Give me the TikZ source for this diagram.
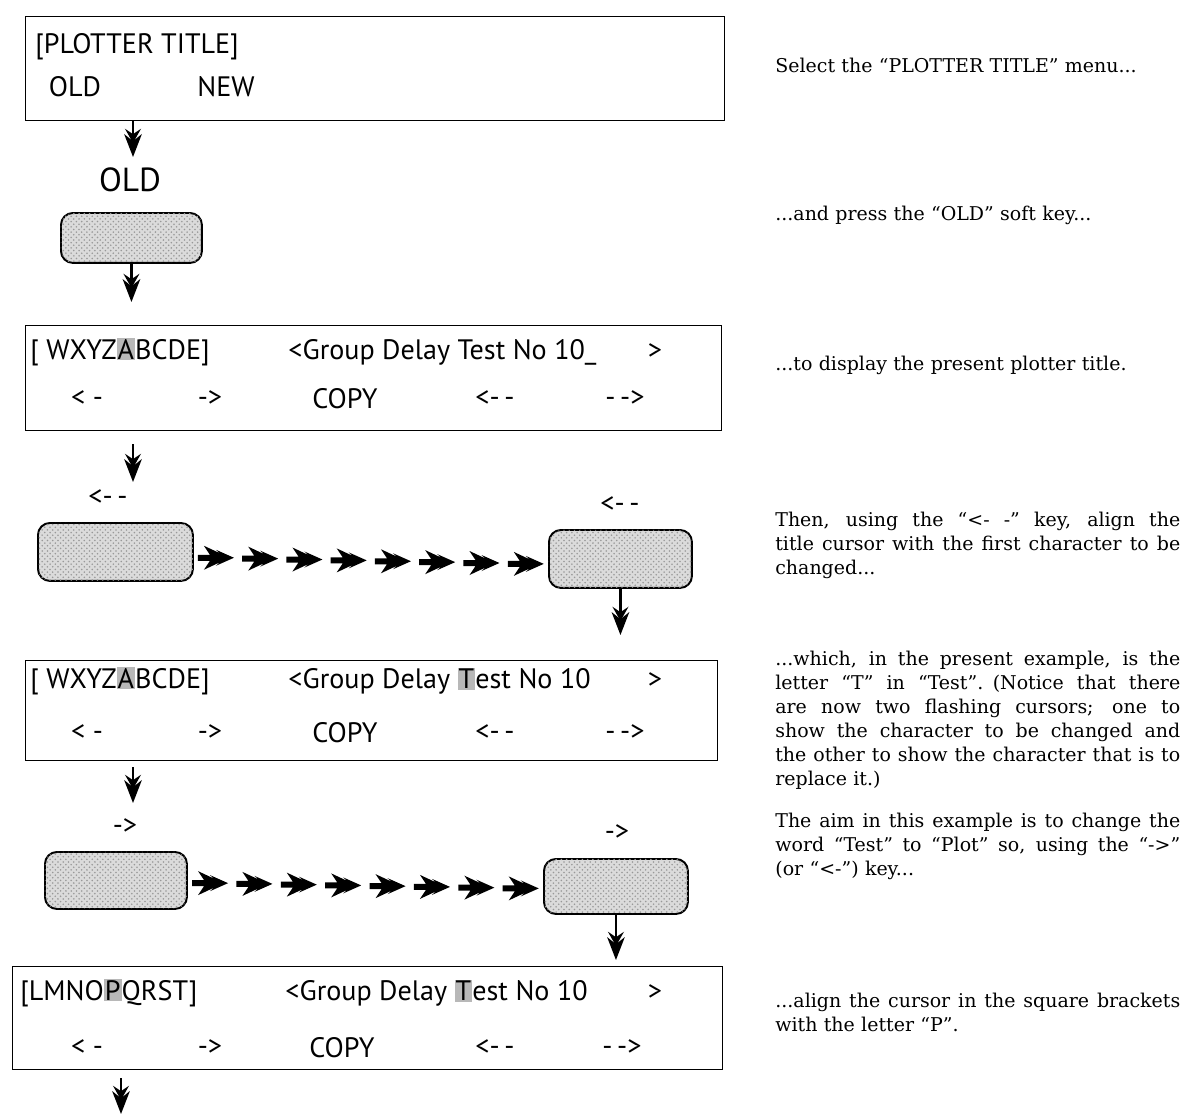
\documentclass[tikz,border=0pt]{standalone}
\usepackage{fontspec}
\setmainfont{DejaVu Serif}
\newfontfamily\scr{PT Sans}
\usetikzlibrary{arrows.meta,patterns,calc}
\newcommand\cur[1]{{\setlength\fboxsep{0.6pt}\colorbox{black!28}{#1}}}
\newcommand\jl[1]{\makebox[8.1cm][s]{\spaceskip=0.3em plus 1fil\relax #1}\\}
\newcommand\chev[1]{\fill[shift={(#1)}] (0,0) -- (-18,8) -- (-14,4.5) -- (-30,12) -- (-24,3) -- (-36,3) -- (-36,-3) -- (-24,-3) -- (-30,-12) -- (-14,-4.5) -- (-18,-8) -- cycle;}
\tikzset{
  scrbox/.style={draw, line width=0.8pt, anchor=north west, inner sep=0pt},
  keybox/.style={draw, line width=1.1pt, anchor=north west, inner sep=0pt,
     rounded corners=0.24cm, fill=black!14,
     postaction={pattern=crosshatch dots, pattern color=black!40}},
  scrt/.style={font=\scr\fontsize{16}{19}\selectfont, inner sep=0pt},
  scrl/.style={scrt, anchor=west},
  bigt/.style={font=\scr\fontsize{19}{22}\selectfont, inner sep=0pt},
  darr/.style={draw, line width=1.3pt,
     -{Stealth[length=8pt,width=9pt,inset=3pt,sep=-5pt]Stealth[length=13pt,width=10pt,inset=4pt]}},
  desc/.style={anchor=north west, inner sep=0pt, text width=8.1cm, align=left,
     font=\fontsize{10.8}{13.66}\selectfont}
}
\begin{document}
\begin{tikzpicture}[x=0.02cm,y=-0.02cm]
\useasboundingbox (0,0) rectangle (1189,1115);

% ---------- box 1
\node[scrbox, minimum width=13.98cm, minimum height=2.08cm] (b1) at (25,16) {};
\node[scrl] (b1t) at (35,47) {[PLOTTER TITLE]};
\node[scrt] (b1o) at (75,87) {OLD};
\node[scrt] (b1n) at (226,87) {NEW};

\coordinate (a1s) at (133,121);
\coordinate (a1e) at (133,157);
\draw[darr] (a1s) -- (a1e);
\node[bigt] (lold) at (130,180) {OLD};

\node[keybox, minimum width=2.82cm, minimum height=1.0cm] (k1) at (60,212) {};

% ---------- box 2
\node[scrbox, minimum width=13.92cm, minimum height=2.1cm] (b2) at (25,325) {};
\draw[darr, shorten >=0.46cm] (k1.south) -- (k1.south |- b2.north);
\node[scrl] (b2a) at (30,352) {[ WXYZ\cur{A}BCDE]};
\node[scrl] (b2b) at (288,352) {<Group Delay Test No 10\_};
\node[scrt] (b2c) at (655,352) {>};
\node[scrt] (b2d) at (87,399) {< -};
\node[scrt] (b2e) at (210,399) {->};
\node[scrt] (b2f) at (345,399) {COPY};
\node[scrt] (b2g) at (495,399) {<-\,-};
\node[scrt] (b2h) at (625,399) {-\,->};

\coordinate (a3s) at (133,444);
\coordinate (a3e) at (133,482);
\draw[darr] (a3s) -- (a3e);

% ---------- key row 1
\node[scrt] (l2) at (108,498) {<-\,-};
\node[scrt] (l3) at (620,505) {<-\,-};
\node[keybox, minimum width=3.1cm, minimum height=1.16cm] (k2) at (37,522) {};
\node[keybox, minimum width=2.86cm, minimum height=1.16cm] (k3) at (548,529) {};
\foreach \i in {1,...,8} {
  \coordinate (c) at ($(k2.east)!{\i/8-0.012}!(k3.west)+(0,5)$);
  \chev{c}
}

% ---------- box 3
\node[scrbox, minimum width=13.84cm, minimum height=2.0cm] (b3) at (25,660) {};
\draw[darr, shorten >=0.5cm] (k3.south) -- (k3.south |- b3.north);
\node[scrl] (b3a) at (30,681) {[ WXYZ\cur{A}BCDE]};
\node[scrl] (b3b) at (288,681) {<Group Delay \cur{T}est No 10};
\node[scrt] (b3c) at (655,681) {>};
\node[scrt] (b3d) at (87,733) {< -};
\node[scrt] (b3e) at (210,733) {->};
\node[scrt] (b3f) at (345,733) {COPY};
\node[scrt] (b3g) at (495,733) {<-\,-};
\node[scrt] (b3h) at (625,733) {-\,->};

\coordinate (a5s) at (133,767);
\coordinate (a5e) at (133,803);
\draw[darr] (a5s) -- (a5e);

% ---------- key row 2
\node[scrt] (l4) at (125,827) {->};
\node[scrt] (l5) at (617,833) {->};
\node[keybox, minimum width=2.84cm, minimum height=1.14cm] (k4) at (44,851) {};
\node[keybox, minimum width=2.88cm, minimum height=1.1cm] (k5) at (543,858) {};
\foreach \i in {1,...,8} {
  \coordinate (c) at ($(k4.east)!{\i/8-0.012}!(k5.west)+(0,2)$);
  \chev{c}
}

% ---------- box 4
\node[scrbox, minimum width=14.2cm, minimum height=2.06cm] (b4) at (12,966) {};
\draw[darr, shorten >=0.12cm] (k5.south) -- (k5.south |- b4.north);
\node[scrl] (b4a) at (20,993) {[LMNO\cur{P}QRST]};
\node[scrl] (b4b) at (285,993) {<Group Delay \cur{T}est No 10};
\node[scrt] (b4c) at (655,993) {>};
\node[scrt] (b4d) at (87,1048) {< -};
\node[scrt] (b4e) at (210,1048) {->};
\node[scrt] (b4f) at (342,1048) {COPY};
\node[scrt] (b4g) at (495,1048) {<-\,-};
\node[scrt] (b4h) at (622,1048) {-\,->};

\coordinate (a7s) at (121,1078);
\coordinate (a7e) at (121,1114);
\draw[darr] (a7s) -- (a7e);

% ---------- descriptions
\node[desc] (d1) at (775,58) {Select the ``PLOTTER TITLE'' menu...};
\node[desc] (d2) at (775,206) {...and press the ``OLD'' soft key...};
\node[desc] (d3) at (775,356) {...to display the present plotter title.};
\node[desc] (d4) at (775,512) {\jl{Then, using the ``<- -'' key, align the}\jl{title cursor with the first character to be}changed...};
\node[desc] (d5) at (775,651) {\jl{...which, in the present example, is the}\jl{letter ``T'' in ``Test''. (Notice that there}\jl{are now two flashing cursors; one to}\jl{show the character to be changed and}\jl{the other to show the character that is to}replace it.)};
\node[desc] (d6) at (775,813) {\jl{The aim in this example is to change the}\jl{word ``Test'' to ``Plot'' so, using the ``->''}(or ``<-'') key...};
\node[desc] (d7) at (775,993) {\jl{...align the cursor in the square brackets}with the letter ``P''.};
\end{tikzpicture}
\end{document}
